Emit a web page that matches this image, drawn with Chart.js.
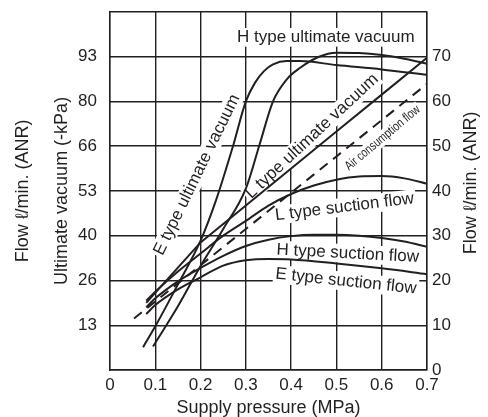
<!DOCTYPE html>
<html>
<head>
<meta charset="utf-8">
<script src="https://cdn.jsdelivr.net/npm/chart.js@4.4.1/dist/chart.umd.min.js"></script>
<style>
  html, body { margin: 0; padding: 0; background: #fff; }
</style>
</head>
<body>
<canvas id="grafico" width="488" height="417"></canvas>
<script>
// valores (pressão em MPa)
const eVacuoP = [0.073, 0.1, 0.15, 0.2, 0.234, 0.271, 0.3, 0.32, 0.34, 0.36, 0.39, 0.42, 0.5, 0.6, 0.7];
const eVacuoKpa = [6.8, 13, 25.5, 38.5, 50.5, 66.4, 80, 85.5, 89, 91, 92, 92, 90.8, 89.5, 87.9];

const hVacuoP = [0.095, 0.15, 0.2, 0.25, 0.3, 0.33, 0.36, 0.39, 0.42, 0.46, 0.5, 0.55, 0.6, 0.65, 0.7];
const hVacuoKpa = [7, 19, 31, 42, 54, 67, 80, 86.5, 90, 93.2, 94.5, 94.4, 93.8, 92.7, 91.2];

const lVacuoP = [0.08, 0.2, 0.3, 0.4, 0.5, 0.6, 0.7];
const lVacuoKpa = [20, 38, 49, 60, 71, 82, 93];

const arP = [0.053, 0.1, 0.2, 0.3, 0.4, 0.5, 0.6, 0.7];
const arVazao = [11.5, 15.3, 23.4, 31.5, 39.6, 47.7, 55.8, 63.9];

const lSuccaoP = [0.08, 0.1, 0.15, 0.2, 0.25, 0.3, 0.35, 0.4, 0.45, 0.5, 0.55, 0.6, 0.65, 0.7];
const lSuccao = [15.5, 17.5, 22, 26, 30, 33.3, 36.7, 39.3, 41.2, 42.5, 43.2, 43.3, 42.8, 41.6];

const hSuccaoP = [0.08, 0.1, 0.15, 0.2, 0.25, 0.3, 0.35, 0.4, 0.45, 0.5, 0.55, 0.6, 0.65, 0.7];
const hSuccao = [14, 16, 19.8, 22.8, 25.5, 27.7, 29.1, 29.9, 30.2, 30.2, 30, 29.5, 28.7, 27.5];

const eSuccaoP = [0.08, 0.1, 0.15, 0.2, 0.25, 0.3, 0.35, 0.4, 0.5, 0.6, 0.7];
const eSuccao = [12.5, 14.5, 18, 20.7, 23.3, 24.5, 24.8, 24.7, 23.8, 22.7, 21.4];

// eixo esquerdo (-kPa): posições dos ticks e textos como aparecem
const vacuoTicks = [40 / 3, 80 / 3, 40, 160 / 3, 200 / 3, 80, 280 / 3];
const vacuoTicksTexto = ['13', '26', '40', '53', '66', '80', '93'];

const cor = '#231f20';
const fonte = "'Liberation Sans', Arial, sans-serif";

const etiquetas = [
  { texto: 'H type ultimate vacuum', p: 0.4765, f: 74.3, angulo: 0, tam: 17, escala: 1 },
  { texto: 'E type ultimate vacuum', p: 0.192, f: 43.6, angulo: -64, tam: 17, escala: 1 },
  { texto: 'L type ultimate vacuum', p: 0.446, f: 52.2, angulo: -43, tam: 17, escala: 1 },
  { texto: 'Air consumption flow', p: 0.602, f: 51.8, angulo: -40, tam: 13, escala: 0.78 },
  { texto: 'L type suction flow', p: 0.518, f: 36.4, angulo: -7, tam: 17, escala: 1 },
  { texto: 'H type suction flow', p: 0.525, f: 26.0, angulo: 3, tam: 17, escala: 1 },
  { texto: 'E type suction flow', p: 0.521, f: 19.8, angulo: 6, tam: 17, escala: 1 }
];

function pontos(ps, vs) {
  return ps.map((p, i) => ({ x: p, y: vs[i] }));
}

function serie(ps, vs, eixo, extra) {
  return Object.assign({
    data: pontos(ps, vs),
    yAxisID: eixo,
    borderColor: cor,
    borderWidth: 2,
    pointRadius: 0,
    fill: false,
    cubicInterpolationMode: 'monotone'
  }, extra || {});
}

function desenharEtiquetas(chart, fundo) {
  const ctx = chart.ctx;
  const sx = chart.scales.x;
  const sy = chart.scales.y;
  etiquetas.forEach(e => {
    ctx.save();
    ctx.translate(sx.getPixelForValue(e.p), sy.getPixelForValue(e.f));
    ctx.rotate(e.angulo * Math.PI / 180);
    ctx.scale(e.escala, 1);
    ctx.font = e.tam + 'px ' + fonte;
    const w = ctx.measureText(e.texto).width;
    if (fundo) {
      ctx.fillStyle = '#fff';
      ctx.fillRect(-w / 2 - 2, -e.tam * 0.55, w + 4, e.tam * 1.1);
    } else {
      ctx.fillStyle = cor;
      ctx.textAlign = 'center';
      ctx.textBaseline = 'middle';
      ctx.fillText(e.texto, 0, 0);
    }
    ctx.restore();
  });
}

const pluginEtiquetas = {
  id: 'etiquetas',
  beforeDatasetsDraw(chart) { desenharEtiquetas(chart, true); },
  afterDatasetsDraw(chart) { desenharEtiquetas(chart, false); },
  afterDraw(chart) {
    // título do eixo direito, lido de baixo para cima
    const ctx = chart.ctx;
    ctx.save();
    ctx.translate(471, (chart.chartArea.top + chart.chartArea.bottom) / 2 - 8);
    ctx.rotate(-Math.PI / 2);
    ctx.font = '18px ' + fonte;
    ctx.fillStyle = cor;
    ctx.textAlign = 'center';
    ctx.textBaseline = 'middle';
    ctx.fillText('Flow \u2113/min. (ANR)', 0, 0);
    ctx.restore();
  }
};

const grade = { color: cor, lineWidth: 1.4, drawTicks: false };

new Chart(document.getElementById('grafico'), {
  type: 'line',
  data: {
    datasets: [
      serie(eVacuoP, eVacuoKpa, 'yVac'),
      serie(hVacuoP, hVacuoKpa, 'yVac'),
      serie(lVacuoP, lVacuoKpa, 'yVac', { cubicInterpolationMode: 'default', tension: 0 }),
      serie(arP, arVazao, 'y', { cubicInterpolationMode: 'default', tension: 0, borderDash: [10, 7] }),
      serie(lSuccaoP, lSuccao, 'y'),
      serie(hSuccaoP, hSuccao, 'y'),
      serie(eSuccaoP, eSuccao, 'y')
    ]
  },
  options: {
    responsive: false,
    animation: false,
    devicePixelRatio: 1,
    layout: { padding: { top: 7 } },
    plugins: { legend: { display: false }, tooltip: { enabled: false } },
    scales: {
      x: {
        type: 'linear',
        min: 0,
        max: 0.7,
        ticks: {
          stepSize: 0.1,
          color: cor,
          padding: 5,
          font: { family: fonte, size: 17 },
          callback: v => (v === 0 ? '0' : v.toFixed(1))
        },
        grid: grade,
        border: { color: cor, width: 1.4 },
        title: {
          display: true,
          text: 'Supply pressure (MPa)',
          color: cor,
          font: { family: fonte, size: 18, lineHeight: 1 },
          padding: { top: 0, bottom: 0 }
        },
        afterFit: s => { s.height = 47; }
      },
      y: {
        position: 'right',
        min: 0,
        max: 80,
        ticks: {
          stepSize: 10,
          color: cor,
          padding: 5,
          font: { family: fonte, size: 17, lineHeight: 0.8 },
          callback: v => (v === 80 ? '' : v)
        },
        grid: grade,
        border: { color: cor, width: 1.4 },
        afterFit: s => { s.width = 61; }
      },
      yVac: {
        position: 'left',
        weight: 1,
        min: 0,
        max: 320 / 3,
        afterBuildTicks: s => { s.ticks = vacuoTicks.map(v => ({ value: v })); },
        ticks: {
          color: cor,
          padding: 5,
          font: { family: fonte, size: 17, lineHeight: 0.8 },
          callback: (v, i) => vacuoTicksTexto[i]
        },
        grid: { display: false },
        border: { color: cor, width: 1.4 },
        title: {
          display: true,
          text: 'Ultimate vacuum (-kPa)',
          color: cor,
          font: { family: fonte, size: 18, lineHeight: 1 },
          padding: { top: 11, bottom: 0 }
        },
        afterFit: s => { s.width = 68; }
      },
      yVazaoEsq: {
        position: 'left',
        weight: 2,
        min: 0,
        max: 80,
        ticks: { display: false },
        grid: { display: false },
        border: { display: false },
        title: {
          display: true,
          text: 'Flow \u2113/min. (ANR)',
          color: cor,
          font: { family: fonte, size: 18, lineHeight: 1 },
          padding: { top: 14, bottom: 0 }
        },
        afterFit: s => { s.width = 42; }
      }
    }
  },
  plugins: [pluginEtiquetas]
});
</script>
</body>
</html>
